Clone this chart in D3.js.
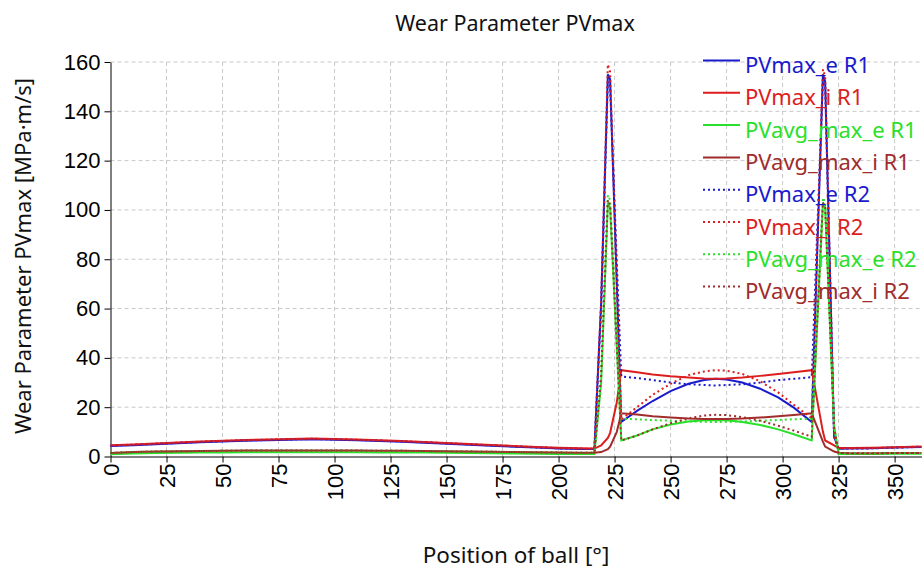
<!DOCTYPE html>
<html>
<head>
<meta charset="utf-8">
<script src="https://cdn.jsdelivr.net/npm/d3@7"></script>
<style>
  body { margin: 0; background: #fff; }
  svg { font-family: "Noto Sans", "Open Sans", sans-serif; }
</style>
</head>
<body>
<div id="myPlot"></div>
<script>
// Position of ball [deg], shared by all series
const positions = [0, 10, 20, 30, 40, 50, 60, 70, 80, 90, 100, 110, 120, 130, 140, 150, 160, 170, 180, 190, 200, 210,
  216, 219, 222, 223, 226, 228,
  235, 242, 250, 258, 265, 270, 275, 282, 290, 298, 305,
  313, 318, 319, 323, 325,
  330, 340, 350, 362];

// Series values [MPa·m/s]
const pvmaxE1 = [4.3, 4.6, 5.0, 5.4, 5.8, 6.1, 6.4, 6.6, 6.8, 7.0, 6.8, 6.6, 6.3, 6.0, 5.6, 5.2, 4.8, 4.4, 4.0, 3.6, 3.2, 3.0,
  3.0, 62, 155, 153, 70, 14,
  18.5, 22.5, 26.5, 29.5, 31, 31.5, 31.2, 30, 27.5, 24, 19.8,
  14, 155, 152, 8, 3.1,
  3.2, 3.3, 3.6, 3.9];
const pvmaxI1 = [4.6, 4.9, 5.3, 5.7, 6.1, 6.4, 6.7, 6.9, 7.1, 7.3, 7.1, 6.9, 6.6, 6.3, 5.9, 5.5, 5.1, 4.7, 4.3, 3.9, 3.5, 3.3,
  3.2, 4.5, 7.5, 9.5, 22, 35,
  34.2, 33.3, 32.5, 32, 31.6, 31.5, 31.6, 32, 32.7, 33.5, 34.2,
  35, 10, 6.5, 4.5, 3.4,
  3.4, 3.5, 3.8, 4.1];
const pvavgE1 = [0.9, 1.2, 1.4, 1.5, 1.6, 1.6, 1.7, 1.7, 1.7, 1.7, 1.7, 1.7, 1.6, 1.6, 1.6, 1.5, 1.4, 1.3, 1.2, 1.1, 1.0, 1.0,
  1.0, 30, 103, 101, 44, 6.5,
  8.5, 11, 13, 14.2, 14.7, 14.8, 14.7, 14, 12.8, 11, 9,
  6.5, 103, 101, 12, 1.0,
  1.0, 1.0, 1.1, 1.1];
const pvavgI1 = [1.4, 1.8, 2.0, 2.1, 2.2, 2.3, 2.4, 2.4, 2.4, 2.4, 2.4, 2.4, 2.3, 2.3, 2.2, 2.1, 2.0, 1.9, 1.8, 1.7, 1.6, 1.5,
  1.5, 1.8, 3, 4, 10, 17.5,
  17, 16.3, 15.8, 15.4, 15.2, 15.2, 15.2, 15.4, 15.8, 16.3, 16.8,
  17.5, 6, 4, 2, 1.5,
  1.3, 1.3, 1.4, 1.4];
const pvmaxE2 = [4.4, 4.7, 5.1, 5.5, 5.9, 6.2, 6.5, 6.7, 6.9, 7.1, 6.9, 6.7, 6.4, 6.1, 5.7, 5.3, 4.9, 4.5, 4.1, 3.7, 3.3, 3.1,
  3.0, 60, 152, 150, 79, 32.5,
  31.8, 31, 30, 29.3, 29, 28.8, 29, 29.3, 30, 31, 31.5,
  32.2, 153, 150, 8, 3.2,
  3.2, 3.3, 3.6, 3.9];
const pvmaxI2 = [4.5, 4.8, 5.2, 5.6, 6.0, 6.3, 6.6, 6.8, 7.0, 7.2, 7.0, 6.8, 6.5, 6.2, 5.8, 5.4, 5.0, 4.6, 4.2, 3.8, 3.4, 3.2,
  3.1, 63, 159, 156, 71, 15,
  20, 25, 29.5, 33, 34.5, 35, 34.8, 33.5, 30.5, 26, 21,
  15.5, 157, 154, 8, 3.3,
  3.3, 3.4, 3.7, 4.0];
const pvavgE2 = [1.4, 1.8, 2.0, 2.1, 2.2, 2.3, 2.4, 2.4, 2.4, 2.4, 2.4, 2.4, 2.3, 2.3, 2.2, 2.1, 2.0, 1.9, 1.8, 1.7, 1.6, 1.5,
  1.5, 34, 106, 104, 51, 15.3,
  15.1, 14.8, 14.5, 14.2, 14.1, 14, 14.1, 14.2, 14.5, 14.8, 15.1,
  15.3, 105, 103, 12, 1.3,
  1.3, 1.3, 1.4, 1.4];
const pvavgI2 = [1.4, 1.8, 2.0, 2.1, 2.2, 2.3, 2.4, 2.4, 2.4, 2.4, 2.4, 2.4, 2.3, 2.3, 2.2, 2.1, 2.0, 1.9, 1.8, 1.7, 1.6, 1.5,
  1.5, 32, 104, 102, 45, 6.5,
  8.5, 11, 13.5, 15.5, 16.6, 16.9, 16.8, 16, 14.5, 12.5, 10.5,
  8, 103, 101, 12, 1.5,
  1.3, 1.3, 1.4, 1.4];

const seriesNames = ["PVmax_e R1", "PVmax_i R1", "PVavg_max_e R1", "PVavg_max_i R1",
  "PVmax_e R2", "PVmax_i R2", "PVavg_max_e R2", "PVavg_max_i R2"];
const seriesValues = [pvmaxE1, pvmaxI1, pvavgE1, pvavgI1, pvmaxE2, pvmaxI2, pvavgE2, pvavgI2];
const xTicks = [0, 25, 50, 75, 100, 125, 150, 175, 200, 225, 250, 275, 300, 325, 350];
const yTicks = [0, 20, 40, 60, 80, 100, 120, 140, 160];

// Styles
const colors = ["#1a1acd", "#dc1e1e", "#2ae02a", "#a02c2c", "#1a1acd", "#dc1e1e", "#2ae02a", "#a02c2c"];
const dotted = [false, false, false, false, true, true, true, true];

const width = 922;
const height = 574;

const svg = d3.select("#myPlot")
  .append("svg")
  .attr("width", width)
  .attr("height", height);

const x = d3.scaleLinear().domain([0, 362]).range([110.5, 921.5]);
const y = d3.scaleLinear().domain([0, 160]).range([456.5, 62]);

// Grid
svg.append("g")
  .selectAll("line")
  .data(yTicks.filter(d => d > 0)).enter()
  .append("line")
  .attr("x1", x(0)).attr("x2", width)
  .attr("y1", d => y(d)).attr("y2", d => y(d))
  .style("stroke", "#c8c8c8")
  .style("stroke-dasharray", "4,3");

svg.append("g")
  .selectAll("line")
  .data(xTicks.filter(d => d > 0)).enter()
  .append("line")
  .attr("x1", d => x(d)).attr("x2", d => x(d))
  .attr("y1", y(160)).attr("y2", y(0))
  .style("stroke", "#c8c8c8")
  .style("stroke-dasharray", "4,3");

// Axes
const yAxis = svg.append("g")
  .attr("transform", "translate(" + x(0) + ",0)")
  .call(d3.axisLeft(y).tickValues(yTicks).tickSize(6).tickSizeOuter(0).tickPadding(4));

const xAxis = svg.append("g")
  .attr("transform", "translate(0," + y(0) + ")")
  .call(d3.axisBottom(x).tickValues(xTicks).tickSize(6).tickSizeOuter(0));

xAxis.selectAll("text")
  .attr("transform", "rotate(-90)")
  .attr("text-anchor", "end")
  .attr("x", -7)
  .attr("y", 0)
  .attr("dy", "0.35em");

[xAxis, yAxis].forEach(a => {
  a.selectAll("text").style("font-size", "22px").style("fill", "#000").style("font-family", null);
  a.selectAll("line, path").style("stroke", "#000");
});

// Lines
const line = d3.line()
  .x((d, i) => x(positions[i]))
  .y(d => y(d));

svg.append("g")
  .selectAll("path")
  .data(seriesValues).enter()
  .append("path")
  .attr("d", d => line(d))
  .style("fill", "none")
  .style("stroke", (d, i) => colors[i])
  .style("stroke-width", 2)
  .style("stroke-dasharray", (d, i) => dotted[i] ? "2,3" : null);

// Legend
const legend = svg.append("g")
  .selectAll("g")
  .data(seriesNames).enter()
  .append("g")
  .attr("transform", (d, i) => "translate(703," + (60.5 + i * 32.3) + ")");

legend.append("line")
  .attr("x1", 0).attr("x2", 37)
  .style("stroke", (d, i) => colors[i])
  .style("stroke-width", 2)
  .style("stroke-dasharray", (d, i) => dotted[i] ? "2,3" : null);

legend.append("text")
  .attr("x", 42)
  .attr("y", 12.5)
  .style("font-size", "22px")
  .style("fill", (d, i) => colors[i])
  .text(d => d);

// Titles
svg.append("text")
  .attr("x", 515).attr("y", 31)
  .attr("text-anchor", "middle")
  .style("font-size", "21.5px")
  .style("fill", "#111")
  .text("Wear Parameter PVmax");

svg.append("text")
  .attr("x", 516).attr("y", 563)
  .attr("text-anchor", "middle")
  .style("font-size", "22.5px")
  .style("fill", "#111")
  .text("Position of ball [°]");

svg.append("text")
  .attr("transform", "translate(31,256) rotate(-90)")
  .attr("text-anchor", "middle")
  .style("font-size", "22px")
  .style("fill", "#111")
  .text("Wear Parameter PVmax [MPa·m/s]");
</script>
</body>
</html>
